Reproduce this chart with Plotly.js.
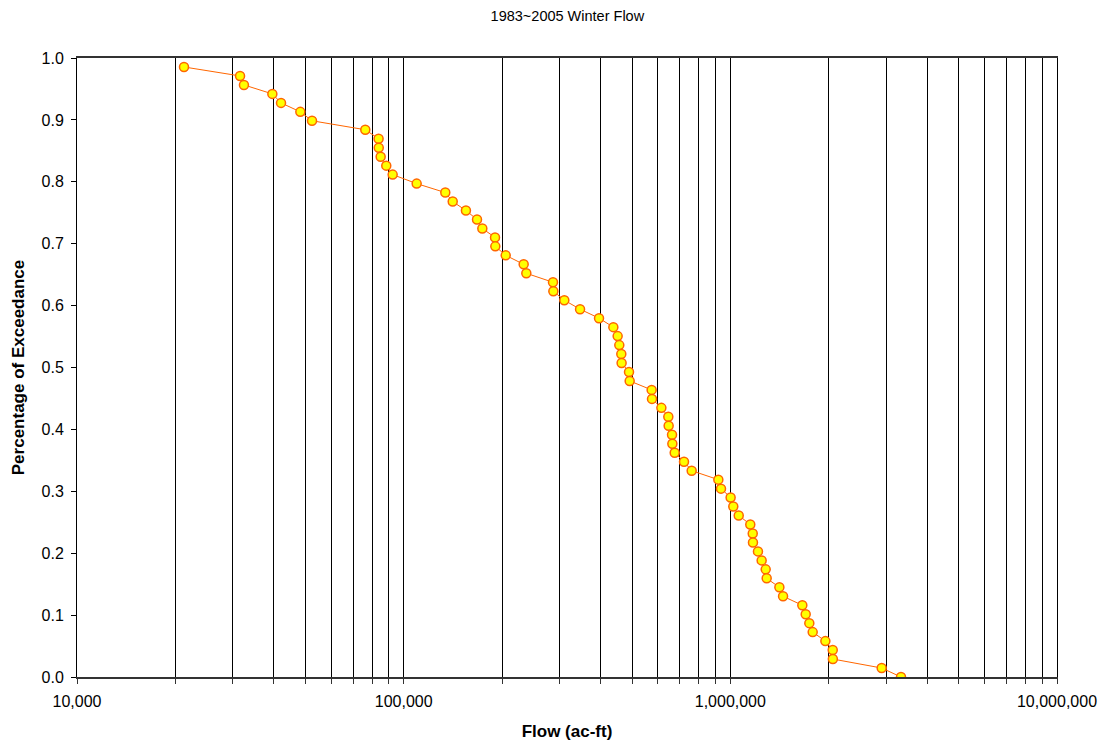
<!DOCTYPE html>
<html>
<head>
<meta charset="utf-8">
<script src="https://cdn.plot.ly/plotly-3.0.1.min.js"></script>
<style>html,body{margin:0;padding:0;background:#fff;}#chart{width:1106px;height:745px;}</style>
</head>
<body>
<div id="chart"></div>
<script>
const flow = [21260, 31560, 32440, 39630, 42130, 48270, 52410, 76300, 83800, 83900,
  85030, 88460, 92540, 109600, 134100, 141300, 155100, 167700, 174100, 190400,
  190800, 205300, 233000, 237400, 286500, 287200, 310300, 346700, 396300, 438400,
  451900, 457200, 463700, 464700, 489600, 491900, 574300, 575700, 615000, 645900,
  647400, 663000, 664500, 675600, 721400, 761500, 919000, 936300, 1002000, 1021000,
  1061000, 1151000, 1171000, 1173000, 1215000, 1247000, 1283000, 1292000, 1413000, 1450000,
  1661000, 1701000, 1745000, 1787000, 1954000, 2058000, 2060000, 2906000, 3330000];
const exceedance = [0.9855, 0.9710, 0.9565, 0.9420, 0.9275, 0.9130, 0.8986, 0.8841, 0.8696, 0.8551,
  0.8406, 0.8261, 0.8116, 0.7971, 0.7826, 0.7681, 0.7536, 0.7391, 0.7246, 0.7101,
  0.6957, 0.6812, 0.6667, 0.6522, 0.6377, 0.6232, 0.6087, 0.5942, 0.5797, 0.5652,
  0.5507, 0.5362, 0.5217, 0.5072, 0.4928, 0.4783, 0.4638, 0.4493, 0.4348, 0.4203,
  0.4058, 0.3913, 0.3768, 0.3623, 0.3478, 0.3333, 0.3188, 0.3043, 0.2899, 0.2754,
  0.2609, 0.2464, 0.2319, 0.2174, 0.2029, 0.1884, 0.1739, 0.1594, 0.1449, 0.1304,
  0.1159, 0.1014, 0.0870, 0.0725, 0.0580, 0.0435, 0.0290, 0.0145, 0.0000];
const xTickVals = [10000, 20000, 30000, 40000, 50000, 60000, 70000, 80000, 90000,
  100000, 200000, 300000, 400000, 500000, 600000, 700000, 800000, 900000,
  1000000, 2000000, 3000000, 4000000, 5000000, 6000000, 7000000, 8000000, 9000000, 10000000];
const xTickText = ['10,000', '', '', '', '', '', '', '', '',
  '100,000', '', '', '', '', '', '', '', '',
  '1,000,000', '', '', '', '', '', '', '', '', '10,000,000'];

const FONT = 'Liberation Sans, Arial, sans-serif';

const trace = {
  x: flow, y: exceedance, type: 'scatter', mode: 'lines+markers',
  line: {color: '#FF6600', width: 1},
  marker: {color: '#FFFF00', size: 9, line: {color: '#FF6600', width: 1.5}},
  hoverinfo: 'x+y', showlegend: false
};

const layout = {
  width: 1106, height: 745,
  margin: {l: 77, r: 49, t: 58, b: 68},
  paper_bgcolor: '#fff', plot_bgcolor: '#fff',
  font: {family: FONT, size: 16, color: '#000'},
  title: {text: '1983~2005 Winter Flow', font: {family: FONT, size: 14.5, color: '#000'}, x: 0.513, xanchor: 'center', y: 0.978, yanchor: 'middle'},
  xaxis: {
    type: 'log', range: [4, 7], automargin: false,
    tickmode: 'array', tickvals: xTickVals, ticktext: xTickText,
    showgrid: true, gridcolor: '#000', gridwidth: 1,
    showline: true, linecolor: '#333', linewidth: 2, mirror: true,
    ticks: 'outside', ticklen: 5, tickcolor: '#333', tickwidth: 1,
    ticklabelstandoff: 4,
    tickfont: {family: FONT, size: 16, color: '#000'},
    zeroline: false,
    title: {text: '<b>Flow (ac-ft)</b>', font: {family: FONT, size: 17, color: '#000'}, standoff: 16}
  },
  yaxis: {
    range: [0, 1], dtick: 0.1, tick0: 0, tickformat: '.1f', automargin: false,
    showgrid: false, zeroline: false,
    showline: true, linecolor: '#000', linewidth: 1, mirror: true,
    ticks: 'outside', ticklen: 5, tickcolor: '#000',
    ticklabelstandoff: 4,
    tickfont: {family: FONT, size: 16, color: '#000'},
    title: {text: '<b>Percentage of Exceedance</b>', font: {family: FONT, size: 17, color: '#000'}, standoff: 12}
  }
};

Plotly.newPlot('chart', [trace], layout, {displayModeBar: false, staticPlot: true});
</script>
</body>
</html>
